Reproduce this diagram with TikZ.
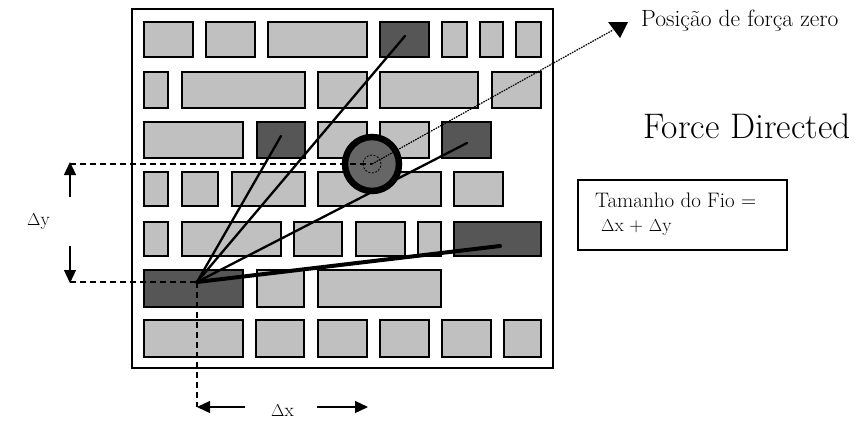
\documentclass[tikz,border=0pt]{standalone}
\usetikzlibrary{arrows.meta}
\definecolor{lightg}{HTML}{C0C0C0}
\definecolor{darkg}{HTML}{565656}
\definecolor{ringg}{HTML}{666666}
\newcommand\bx[6]{\node[#6, minimum width={(#4-#2)*1pt}, minimum height={(#5-#3)*1pt}] (#1) at ({(#2+#4)/2},{(#3+#5)/2}) {};}
\begin{document}
\begin{tikzpicture}[x=1pt,y=-1pt,
  cell/.style={draw=black, line width=1.3pt, inner sep=0pt, outer sep=0pt},
  lbox/.style={cell, fill=lightg},
  dbox/.style={cell, fill=darkg},
  wire/.style={line width=2.3pt, line cap=round},
  thickwire/.style={line width=4pt, line cap=round},
  guide/.style={line width=1.2pt, dash pattern=on 6pt off 4pt},
  zeroline/.style={line width=1.2pt, dash pattern=on 1.6pt off 1pt},
  dimarrow/.style={line width=1.3pt, -{Triangle[length=13pt,width=12pt]}},
  lbl/.style={inner sep=0pt, anchor=west}
]
\useasboundingbox (0,0) rectangle (860,426);
\fill[white] (0,0) rectangle (860,426);
% frame
\node[draw, line width=1.5pt, minimum width=421pt, minimum height=359pt, inner sep=0pt] (frame) at (342.5,188.5) {};
% row 1
\bx{a1}{144}{22}{193}{57}{lbox}
\bx{a2}{206}{22}{255}{57}{lbox}
\bx{a3}{268}{22}{367}{57}{lbox}
\bx{a4}{380}{22}{429}{57}{dbox}
\bx{a5}{442}{22}{467}{57}{lbox}
\bx{a6}{480}{22}{503}{57}{lbox}
\bx{a7}{516}{22}{541}{57}{lbox}
% row 2
\bx{b1}{144}{72}{168}{108}{lbox}
\bx{b2}{182}{72}{305}{108}{lbox}
\bx{b3}{318}{72}{367}{108}{lbox}
\bx{b4}{380}{72}{478}{108}{lbox}
\bx{b5}{492}{72}{541}{108}{lbox}
% row 3
\bx{c1}{144}{122}{243}{158}{lbox}
\bx{c2}{257}{122}{305}{158}{dbox}
\bx{c3}{318}{122}{367}{158}{lbox}
\bx{c4}{380}{122}{429}{158}{lbox}
\bx{c5}{442}{122}{491}{158}{dbox}
% row 4
\bx{d1}{144}{172}{168}{206}{lbox}
\bx{d2}{182}{172}{218}{206}{lbox}
\bx{d3}{232}{172}{305}{206}{lbox}
\bx{d4}{318}{172}{441}{206}{lbox}
\bx{d5}{454}{172}{503}{206}{lbox}
% row 5
\bx{e1}{144}{222}{168}{256}{lbox}
\bx{e2}{182}{222}{281}{256}{lbox}
\bx{e3}{294}{222}{342}{256}{lbox}
\bx{e4}{356}{222}{405}{256}{lbox}
\bx{e5}{418}{222}{441}{256}{lbox}
\bx{e6}{454}{222}{541}{256}{dbox}
% row 6
\bx{f1}{144}{270}{243}{307}{dbox}
\bx{f2}{257}{270}{304}{307}{lbox}
\bx{f3}{318}{270}{441}{307}{lbox}
% row 7
\bx{g1}{144}{320}{243}{357}{lbox}
\bx{g2}{256}{320}{304}{357}{lbox}
\bx{g3}{318}{320}{367}{357}{lbox}
\bx{g4}{380}{320}{429}{357}{lbox}
\bx{g5}{442}{320}{491}{357}{lbox}
\bx{g6}{504}{320}{541}{357}{lbox}
% anchor points
\coordinate (hub) at (197,282);
\coordinate (ea) at (405,36);
\coordinate (eb) at (281,136);
\coordinate (ec) at (467,143);
\coordinate (ed) at (500,246);
\coordinate (zc) at (372,164);
% wires
\draw[wire] (hub) -- (ea);
\draw[wire] (hub) -- (eb);
\draw[wire] (hub) -- (ec);
\draw[thickwire] (hub) -- (ed);
% zero-force circle
\node[circle, draw=black, line width=6.5pt, fill=ringg, minimum size=54pt, inner sep=0pt] (zero) at (zc) {};
\node[circle, draw=black, line width=0.8pt, dash pattern=on 2pt off 1.5pt, minimum size=18pt, inner sep=0pt] (zin) at (zc) {};
% guides
\coordinate (gtl) at (70,164);
\coordinate (gbl) at (70,282);
\coordinate (gbb) at (197,407);
\draw[guide] (gtl) -- (zc);
\draw[guide] (gbl) -- (hub);
\draw[guide] (hub) -- (gbb);
% zero-force pointer
\coordinate (ztip) at (613,30);
\draw[zeroline] (zc) -- (ztip);
\fill (608,22) -- (628,22) -- (620,38) -- cycle;
% dy arrows
\coordinate (dyu1) at (70,197);
\coordinate (dyu2) at (70,162);
\coordinate (dyd1) at (70,246);
\coordinate (dyd2) at (70,283);
\draw[dimarrow] (dyu1) -- (dyu2);
\draw[dimarrow] (dyd1) -- (dyd2);
\node[lbl] (dy) at (27,222) {\fontsize{19}{22}\selectfont$\Delta$y};
% dx arrows
\coordinate (dxl1) at (245,407);
\coordinate (dxr1) at (317,407);
\coordinate (dxr2) at (368,407);
\draw[dimarrow] (dxl1) -- (gbb);
\draw[dimarrow] (dxr1) -- (dxr2);
\node[lbl] (dx) at (271,411) {\fontsize{19}{22}\selectfont$\Delta$x};
% texts
\node[lbl] (pos) at (641,21) {\fontsize{23.5}{27}\selectfont Posição de força zero};
\node[lbl] (fd) at (643,126) {\fontsize{35.5}{42}\selectfont Force Directed};
\node[draw, line width=1.3pt, minimum width=209pt, minimum height=70pt, inner sep=0pt] (fbox) at (682.5,215) {};
\node[lbl] (ft1) at (595,200) {\fontsize{21}{25}\selectfont Tamanho do Fio =};
\node[lbl] (ft2) at (601,228) {\fontsize{19}{22}\selectfont$\Delta$x + $\Delta$y};
\end{tikzpicture}
\end{document}
